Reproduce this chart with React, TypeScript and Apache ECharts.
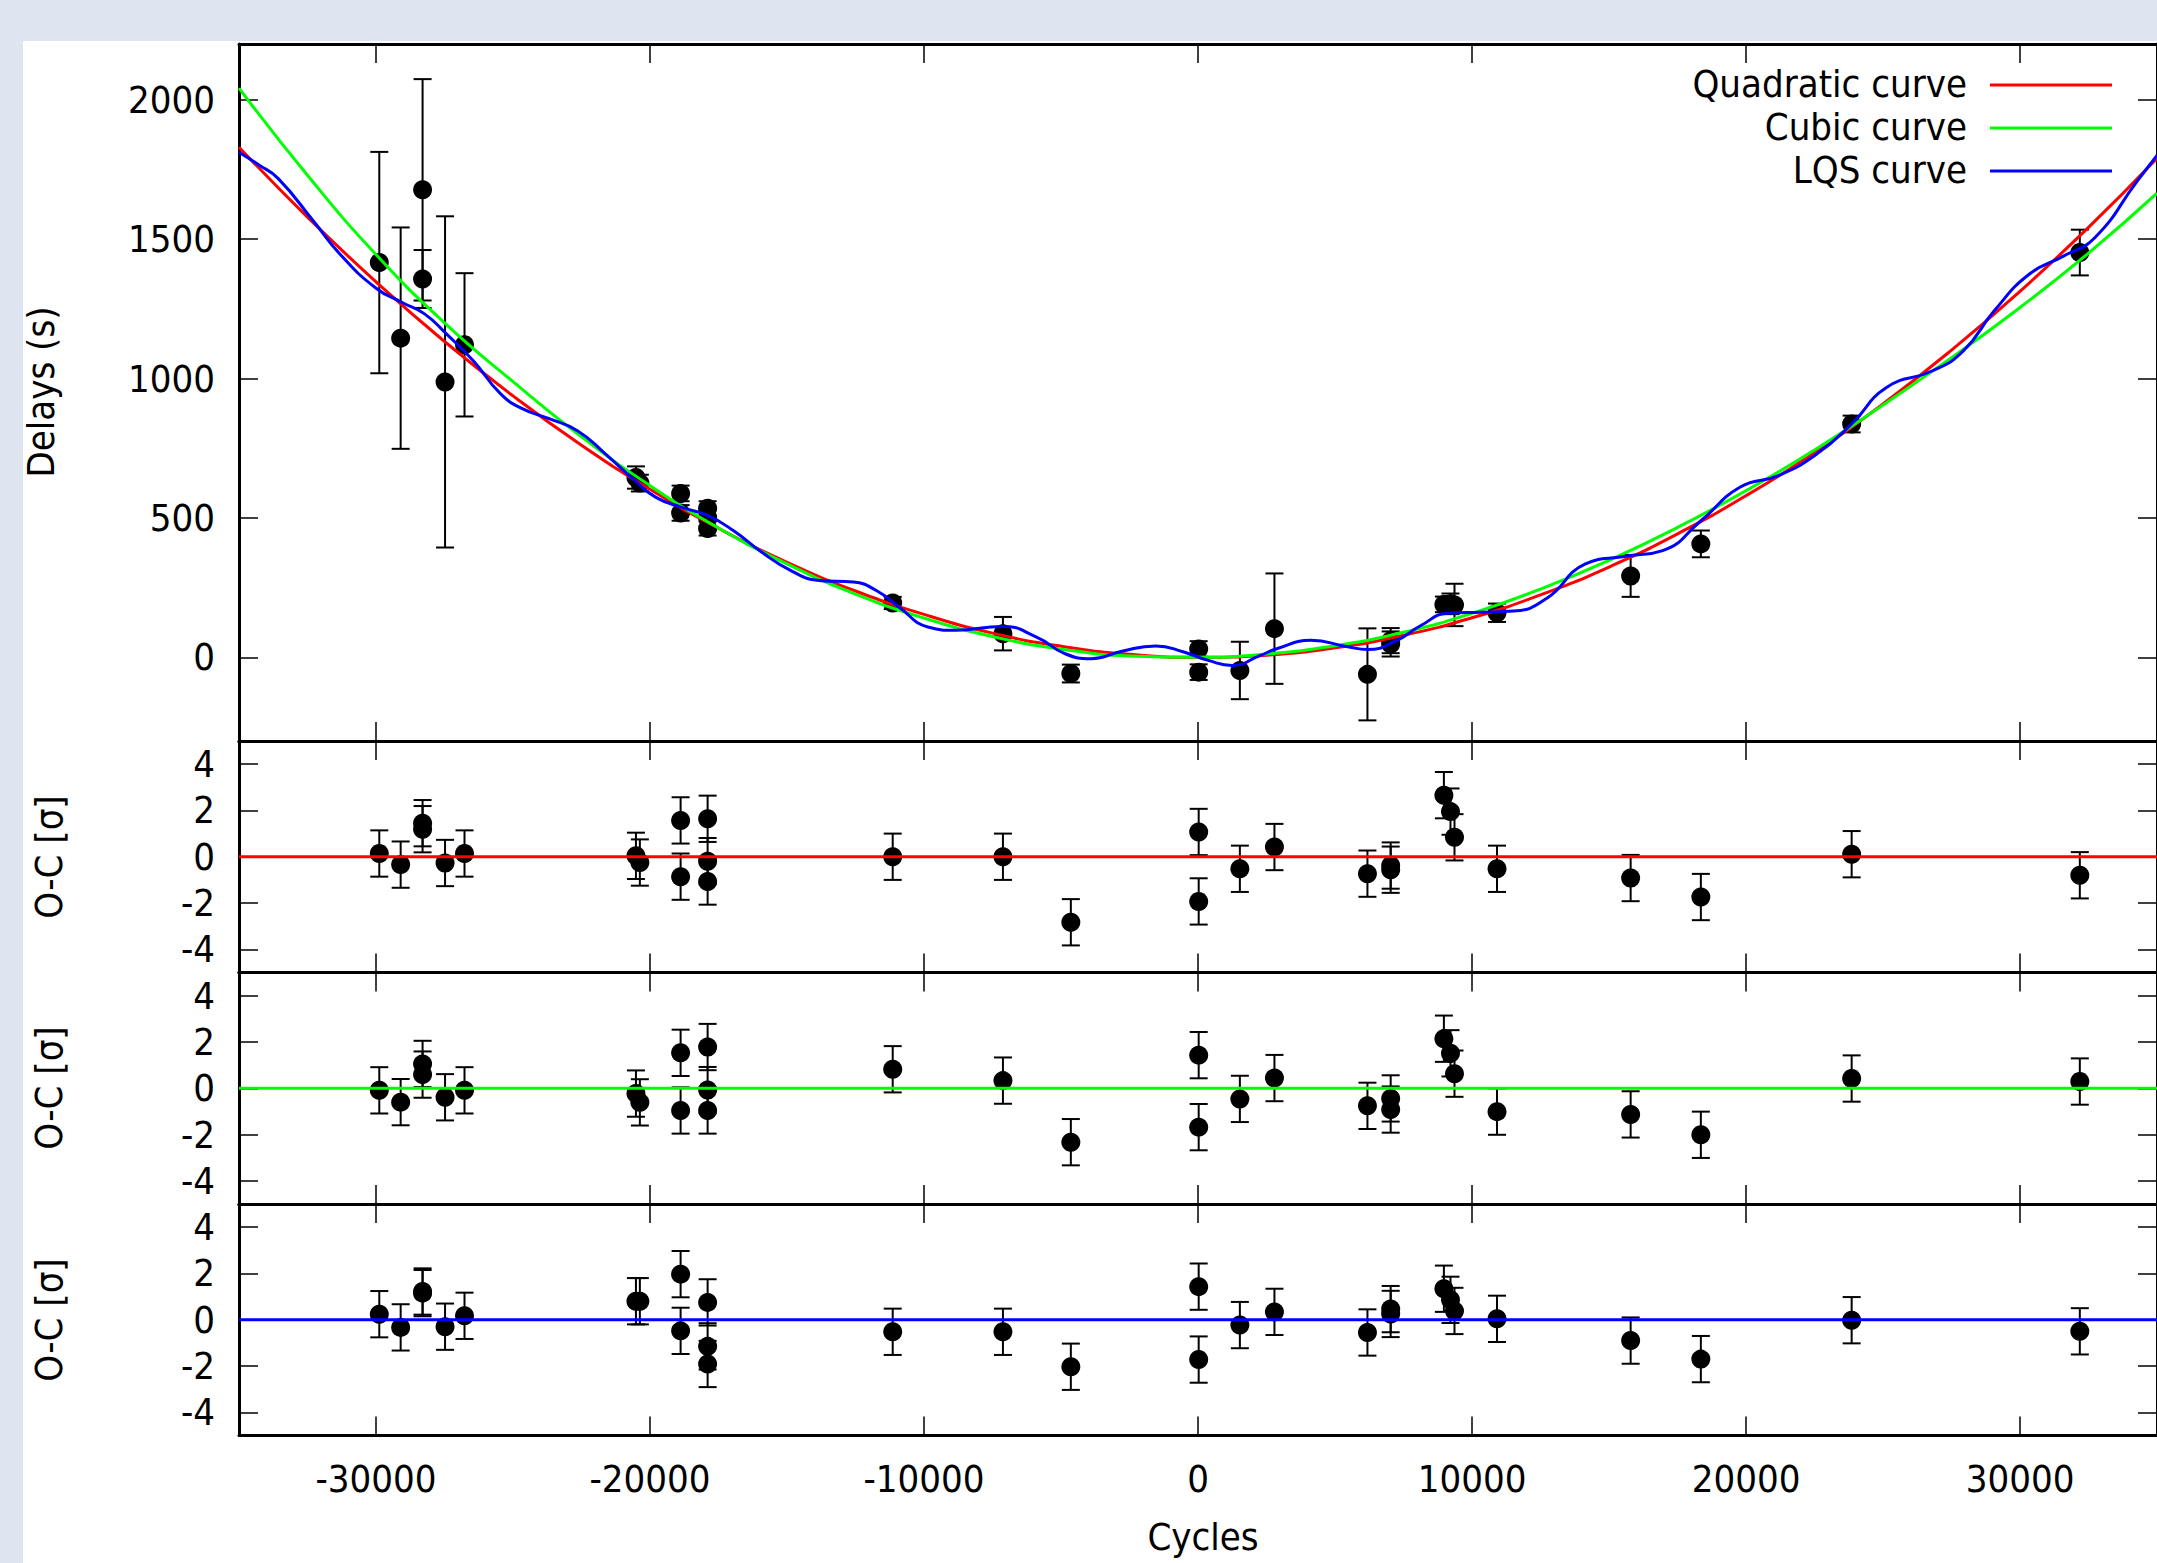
import React, { useEffect, useRef } from 'react';
import * as echarts from 'echarts';

// ---- observed timing data (cycles, delays in s, 1-sigma errors) ----
const cycles = [-29880, -29100, -28300, -28300, -27480, -26770, -20513, -20370, -18883, -18883, -17897, -17897, -17897, -11142, -7119, -4641, 25, 25, 1528, 2790, 6184, 7032, 7032, 8974, 9215, 9361, 10913, 15790, 18352, 23856, 32183];
const delays = [1416, 1145, 1677, 1357, 988, 1121, 645, 625, 588, 518, 535, 500, 462, 195, 85, -58, 30, -53, -47, 103, -61, 60, 48, 190, 192, 188, 160, 292, 407, 837, 1452];
const delayErrors = [397, 397, 397, 104, 594, 257, 40, 30, 28, 28, 25, 30, 25, 22, 60, 32, 28, 28, 103, 198, 165, 45, 45, 28, 37, 76, 33, 75, 48, 30, 82];

// ---- O-C residuals in units of sigma ----
const ocQuadratic = [0.14, -0.34, 1.19, 1.45, -0.27, 0.14, 0.04, -0.25, 1.57, -0.86, 1.64, -0.19, -1.07, 0.0, 0.0, -2.83, 1.07, -1.93, -0.52, 0.42, -0.73, -0.38, -0.56, 2.66, 1.95, 0.84, -0.52, -0.92, -1.74, 0.11, -0.8];
const ocCubic = [-0.09, -0.6, 1.05, 0.59, -0.39, -0.09, -0.23, -0.61, 1.53, -0.96, 1.78, -0.08, -0.96, 0.82, 0.33, -2.33, 1.43, -1.68, -0.46, 0.44, -0.76, -0.44, -0.92, 2.14, 1.51, 0.63, -1.01, -1.13, -2.01, 0.42, 0.29];
const ocLqs = [0.24, -0.33, 1.15, 1.22, -0.3, 0.17, 0.8, 0.8, 1.97, -0.48, 0.75, -1.15, -1.91, -0.52, -0.52, -2.03, 1.43, -1.72, -0.23, 0.34, -0.55, 0.46, 0.25, 1.34, 0.86, 0.38, 0.04, -0.9, -1.7, -0.02, -0.5];

// ---- fitted curves ----
const curveCycles = [-35000, -32500, -30000, -27500, -25000, -22500, -20000, -17500, -15000, -12500, -10000, -7500, -5000, -2500, 0, 2500, 5000, 7500, 10000, 12500, 15000, 17500, 20000, 22500, 25000, 27500, 30000, 32500, 35000];
const quadraticCurve = [1830, 1579, 1347, 1133, 938, 761, 603, 463, 341, 238, 154, 87, 40, 11, 0, 8, 34, 79, 142, 224, 324, 443, 580, 735, 909, 1102, 1313, 1542, 1790];
const cubicCurve = [2042, 1729, 1445, 1200, 989, 791, 616, 464, 335, 227, 141, 75, 30, 5, 0, 12, 42, 90, 158, 245, 348, 466, 598, 744, 905, 1075, 1255, 1450, 1665];
const lqsCycles = [-35000, -34300, -33576, -32285, -31320, -30010, -29030, -28230, -27430, -26450, -25460, -24660, -23680, -22650, -21640, -20550, -19782, -18843, -17900, -16962, -15917, -14873, -13830, -12578, -11741, -10905, -9861, -8817, -7148, -5893, -4849, -3900, -2780, -1540, -520, 371, 1250, 2276, 2874, 4126, 5420, 6200, 7200, 8150, 9096, 10306, 11518, 12732, 14140, 15548, 16957, 18367, 19776, 21184, 22591, 23856, 25127, 26815, 27940, 29060, 30334, 31604, 32729, 34278, 35000];
const lqsCurve = [1812, 1768, 1718, 1565, 1447, 1325, 1272, 1232, 1160, 1064, 946, 892, 856, 813, 731, 634, 574, 538, 509, 455, 377, 312, 276, 270, 240, 180, 109, 97, 111, 73, 13, -5, 22, 41, 19, -11, -29, 7, 31, 61, 39, 28, 58, 115, 158, 162, 166, 212, 335, 362, 383, 491, 610, 652, 730, 837, 968, 1028, 1100, 1243, 1374, 1440, 1505, 1708, 1800];

const xRange = [-35000, 35000];
const delayRange = [-300, 2200];
const ocRange = [-5, 5];

const legendItems = ['Quadratic curve', 'Cubic curve', 'LQS curve'];
const curveColors = ['#ff0000', '#00ff00', '#0000ff'];

const FONT = '"DejaVu Sans Condensed", "DejaVu Sans", sans-serif';

export default function App() {
  const ref = useRef<HTMLDivElement>(null);
  useEffect(() => {
    const chart = echarts.init(ref.current!, undefined, { renderer: 'svg' });
    const grids = [
      { left: 239, top: 44, width: 1924, height: 697 },
      { left: 239, top: 741, width: 1924, height: 231.5 },
      { left: 239, top: 972.5, width: 1924, height: 231.5 },
      { left: 239, top: 1204, width: 1924, height: 231.5 },
    ];
    const axisLine = { show: true, onZero: false, lineStyle: { color: '#000', width: 3 } };
    const axisTick = { show: true, inside: true, length: 19, lineStyle: { color: '#000', width: 1.5 } };
    const labelStyle = { color: '#000', fontSize: 38, fontFamily: FONT };
    const xAxes: any[] = [];
    const yAxes: any[] = [];
    grids.forEach((g, i) => {
      ['bottom', 'top'].forEach((pos) =>
        xAxes.push({
          gridIndex: i, type: 'value', position: pos, min: xRange[0], max: xRange[1], splitNumber: 7,
          axisLine, axisTick, splitLine: { show: false },
          axisLabel: {
            show: pos === 'bottom' && i === 3, ...labelStyle, margin: 24,
            showMinLabel: false, showMaxLabel: false, formatter: (v: number) => String(v),
          },
        })
      );
      const yr = i === 0 ? delayRange : ocRange;
      ['left', 'right'].forEach((pos) =>
        yAxes.push({
          gridIndex: i, type: 'value', position: pos, min: yr[0], max: yr[1], splitNumber: 5,
          axisLine, axisTick, splitLine: { show: false },
          axisLabel: {
            show: pos === 'left', ...labelStyle, margin: 24,
            showMinLabel: false, showMaxLabel: false, formatter: (v: number) => String(v),
          },
        })
      );
    });

    const errItem = (params: any, api: any) => {
      const x = api.value(0), y = api.value(1), e = api.value(2);
      const p = api.coord([x, y]);
      const t = api.coord([x, y + e]);
      const b = api.coord([x, y - e]);
      const st = { stroke: '#000', lineWidth: 2 };
      return {
        type: 'group',
        children: [
          { type: 'line', shape: { x1: p[0], y1: t[1], x2: p[0], y2: b[1] }, style: st },
          { type: 'line', shape: { x1: p[0] - 9, y1: t[1], x2: p[0] + 9, y2: t[1] }, style: st },
          { type: 'line', shape: { x1: p[0] - 9, y1: b[1], x2: p[0] + 9, y2: b[1] }, style: st },
          { type: 'circle', shape: { cx: p[0], cy: p[1], r: 9.5 }, style: { fill: '#000' } },
        ],
      };
    };

    const series: any[] = [];
    series.push({
      type: 'custom', xAxisIndex: 0, yAxisIndex: 0, renderItem: errItem, z: 2,
      encode: { x: 0, y: 1 },
      data: cycles.map((c, i) => [c, delays[i], delayErrors[i]]),
    });
    const curves = [
      curveCycles.map((c, i) => [c, quadraticCurve[i]]),
      curveCycles.map((c, i) => [c, cubicCurve[i]]),
      lqsCycles.map((c, i) => [c, lqsCurve[i]]),
    ];
    curves.forEach((d, k) =>
      series.push({
        type: 'line', name: legendItems[k], xAxisIndex: 0, yAxisIndex: 0, data: d, z: 3,
        smooth: 0.5, showSymbol: false, symbol: 'none',
        lineStyle: { color: curveColors[k], width: 3 },
      })
    );
    [ocQuadratic, ocCubic, ocLqs].forEach((oc, k) => {
      const gi = k + 1;
      series.push({
        type: 'custom', xAxisIndex: gi * 2, yAxisIndex: gi * 2, renderItem: errItem, z: 2,
        encode: { x: 0, y: 1 },
        data: cycles.map((c, i) => [c, oc[i], 1]),
      });
      series.push({
        type: 'line', xAxisIndex: gi * 2, yAxisIndex: gi * 2, z: 3, showSymbol: false, symbol: 'none',
        data: [[xRange[0], 0], [xRange[1], 0]],
        lineStyle: { color: curveColors[k], width: 3 },
      });
    });

    const graphic: any[] = [
      { type: 'rect', z: -10, shape: { x: 23, y: 41, width: 2200, height: 1600 }, style: { fill: '#ffffff' } },
      {
        type: 'text', x: 41, y: 392, rotation: Math.PI / 2,
        style: { text: 'Delays (s)', font: `38px ${FONT}`, fill: '#000', align: 'center', verticalAlign: 'middle' },
      },
      ...[857, 1088, 1320].map((y) => ({
        type: 'text', x: 49, y, rotation: Math.PI / 2,
        style: { text: 'O-C [σ]', font: `38px ${FONT}`, fill: '#000', align: 'center', verticalAlign: 'middle' },
      })),
      {
        type: 'text', x: 1203, y: 1537,
        style: { text: 'Cycles', font: `38px ${FONT}`, fill: '#000', align: 'center', verticalAlign: 'middle' },
      },
    ];
    legendItems.forEach((name, k) => {
      const y = 85 + k * 43;
      graphic.push({
        type: 'text', x: 1967, y: y - 1,
        style: { text: name, font: `38px ${FONT}`, fill: '#000', align: 'right', verticalAlign: 'middle' },
      });
      graphic.push({
        type: 'line', shape: { x1: 1990, y1: y, x2: 2112, y2: y },
        style: { stroke: curveColors[k], lineWidth: 3 },
      });
    });

    chart.setOption({
      animation: false,
      backgroundColor: '#dee5f0',
      grid: grids,
      xAxis: xAxes,
      yAxis: yAxes,
      series,
      graphic,
    });
    return () => chart.dispose();
  }, []);
  return <div ref={ref} style={{ position: 'fixed', left: 0, top: 0, width: 2157, height: 1563 }} />;
}
